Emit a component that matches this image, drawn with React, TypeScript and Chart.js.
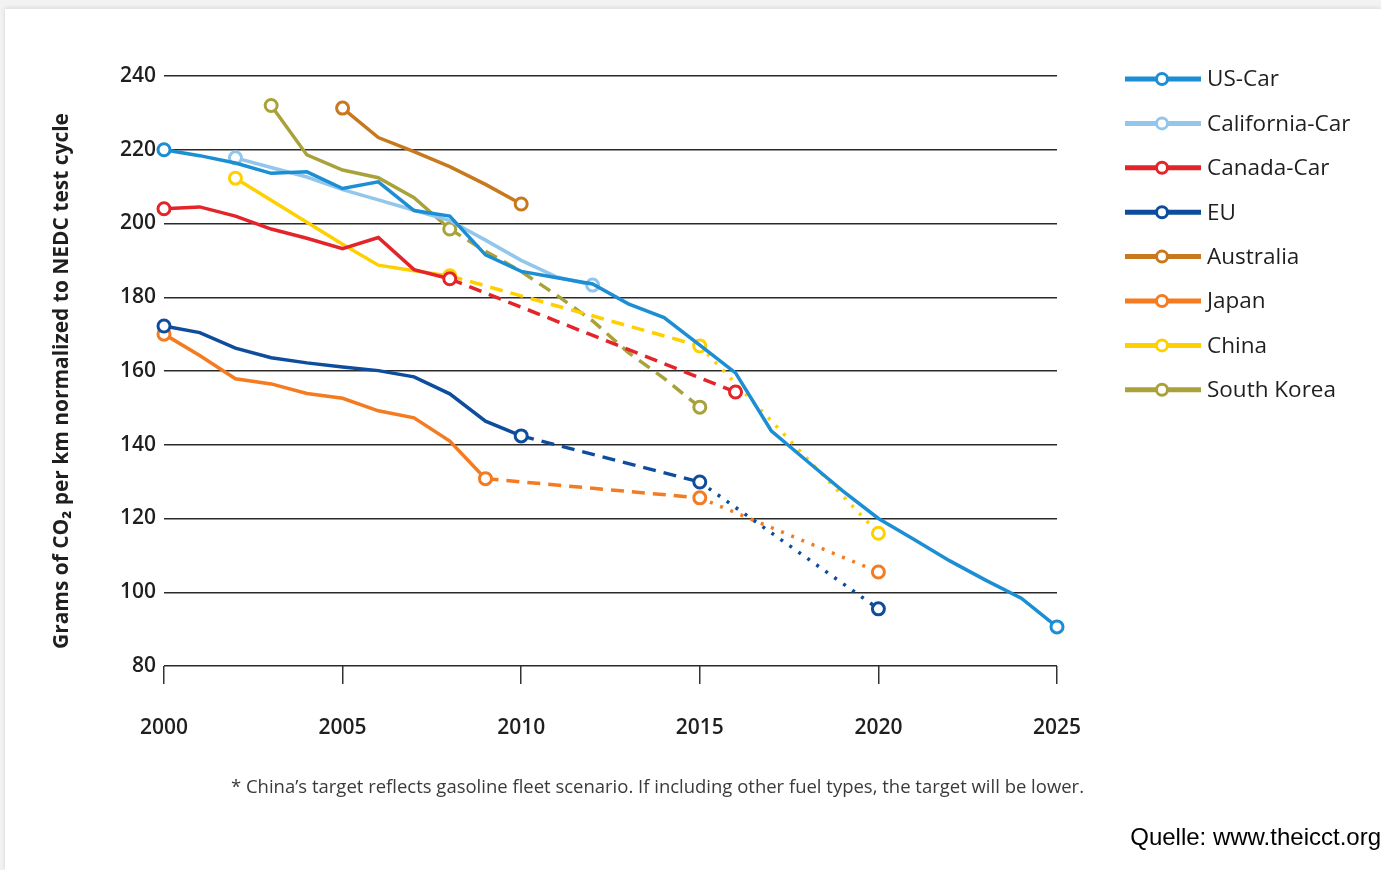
import React, { useEffect, useRef } from "react";
import { Chart, registerables } from "chart.js";

Chart.register(...registerables);

const xTicks = [2000, 2005, 2010, 2015, 2020, 2025];
const yTicks = [80, 100, 120, 140, 160, 180, 200, 220, 240];

const usYears = [2000, 2001, 2002, 2003, 2004, 2005, 2006, 2007, 2008, 2009, 2010, 2011, 2012, 2013, 2014, 2015, 2016, 2017, 2018, 2019, 2020, 2021, 2022, 2023, 2024, 2025];
const usValues = [220, 218.4, 216.4, 213.6, 214, 209.5, 211.3, 203.5, 202, 191.5, 187, 185.3, 183.6, 178.2, 174.5, 167, 159.5, 143.8, 135.6, 127.5, 120, 114.3, 108.5, 103.3, 98.4, 90.6];

const calYears = [2002, 2003, 2004, 2005, 2006, 2007, 2008, 2009, 2010, 2011, 2012];
const calValues = [217.8, 215.2, 212.6, 209.2, 206.4, 203.6, 200.8, 195.5, 190, 185.5, 183.3];

const canYears = [2000, 2001, 2002, 2003, 2004, 2005, 2006, 2007, 2008, 2016];
const canValues = [204, 204.5, 202, 198.5, 196, 193.2, 196.2, 187.5, 185, 154.3];

const euYears = [2000, 2001, 2002, 2003, 2004, 2005, 2006, 2007, 2008, 2009, 2010, 2015, 2020];
const euValues = [172.2, 170.4, 166.2, 163.6, 162.2, 161.1, 160.1, 158.4, 153.8, 146.4, 142.4, 129.9, 95.5];

const ausYears = [2005, 2006, 2007, 2008, 2009, 2010];
const ausValues = [231.3, 223.3, 219.5, 215.4, 210.6, 205.3];

const jpYears = [2000, 2001, 2002, 2003, 2004, 2005, 2006, 2007, 2008, 2009, 2015, 2020];
const jpValues = [170, 164.2, 157.9, 156.5, 153.9, 152.6, 149.2, 147.3, 141, 130.8, 125.6, 105.5];

const cnYears = [2002, 2005, 2006, 2007, 2008, 2015, 2020];
const cnValues = [212.3, 194.4, 188.7, 187.2, 185.8, 166.8, 116];

const krYears = [2003, 2004, 2005, 2006, 2007, 2008, 2009, 2010, 2011, 2012, 2013, 2014, 2015];
const krValues = [232, 218.6, 214.5, 212.4, 207, 198.5, 192.5, 187, 180.5, 173.6, 165, 158, 150.2];

const seriesNames = ["US-Car", "California-Car", "Canada-Car", "EU", "Australia", "Japan", "China", "South Korea"];
const seriesColors = ["#1b8ed4", "#92c6ec", "#e3242b", "#0d4d9c", "#c8781d", "#f47b20", "#ffd000", "#a9a23b"];
const seriesYears = [usYears, calYears, canYears, euYears, ausYears, jpYears, cnYears, krYears];
const seriesValues = [usValues, calValues, canValues, euValues, ausValues, jpValues, cnValues, krValues];
// index of the point where dashed (target) and dotted (proposed) parts begin; -1 = none
const dashStarts = [-1, -1, 8, 10, -1, 9, 4, 5];
const dotStarts = [-1, -1, -1, 11, -1, 10, 5, -1];

const footnote = "* China\u2019s target reflects gasoline fleet scenario. If including other fuel types, the target will be lower.";
const sourceText = "Quelle: www.theicct.org";
const yTitle = "Grams of CO\u2082 per km normalized to NEDC test cycle";

const overlayPlugin = {
  id: "overlay",
  afterDraw(chart: any) {
    const ctx = chart.ctx;
    ctx.save();
    // y-axis title
    ctx.save();
    ctx.translate(62, 381);
    ctx.rotate(-Math.PI / 2);
    ctx.fillStyle = "#1f1f1f";
    ctx.font = 'bold 21px "Open Sans"';
    ctx.textAlign = "center";
    ctx.textBaseline = "middle";
    ctx.fillText(yTitle, 0, 0, 536);
    ctx.restore();
    // legend
    const legendX = 1125;
    const legendY0 = 79;
    const legendStep = 44.4;
    seriesNames.forEach((name, i) => {
      const y = legendY0 + i * legendStep;
      const c = seriesColors[i];
      ctx.strokeStyle = c;
      ctx.lineWidth = 5;
      ctx.lineCap = "butt";
      ctx.setLineDash([]);
      ctx.beginPath();
      ctx.moveTo(legendX, y);
      ctx.lineTo(legendX + 76, y);
      ctx.stroke();
      ctx.beginPath();
      ctx.arc(legendX + 37, y, 5.5, 0, Math.PI * 2);
      ctx.fillStyle = "#ffffff";
      ctx.fill();
      ctx.lineWidth = 3;
      ctx.stroke();
      ctx.fillStyle = "#1f1f1f";
      ctx.font = '500 22.5px "Open Sans"';
      ctx.textAlign = "left";
      ctx.textBaseline = "middle";
      ctx.fillText(name, legendX + 82, y + 1);
    });
    // footnote
    ctx.fillStyle = "#3a3a3a";
    ctx.font = '18.5px "Open Sans"';
    ctx.textAlign = "left";
    ctx.textBaseline = "middle";
    ctx.fillText(footnote, 231, 788, 853);
    // source
    ctx.fillStyle = "#000000";
    ctx.font = '24px "Liberation Sans"';
    ctx.textAlign = "right";
    ctx.fillText(sourceText, 1381, 838);
    ctx.restore();
  },
};

export default function App() {
  const canvasRef = useRef<HTMLCanvasElement | null>(null);

  useEffect(() => {
    if (!canvasRef.current) return;
    const datasets = seriesNames.map((name, i) => {
      const yrs = seriesYears[i];
      const vals = seriesValues[i];
      const ds = dashStarts[i];
      const dt = dotStarts[i];
      const markers = [0, yrs.length - 1];
      if (ds >= 0) markers.push(ds);
      if (dt >= 0) markers.push(dt);
      return {
        label: name,
        data: yrs.map((x, k) => ({ x, y: vals[k] })),
        borderColor: seriesColors[i],
        backgroundColor: seriesColors[i],
        borderWidth: 3.5,
        tension: 0,
        fill: false,
        clip: false,
        pointRadius: (c: any) => (markers.includes(c.dataIndex) ? 6 : 0),
        pointHoverRadius: 6,
        pointBackgroundColor: "#ffffff",
        pointBorderColor: seriesColors[i],
        pointBorderWidth: 3,
        segment: {
          borderDash: (c: any) => {
            if (dt >= 0 && c.p0DataIndex >= dt) return [3, 8];
            if (ds >= 0 && c.p0DataIndex >= ds) return [13, 8];
            return [];
          },
        },
      };
    });

    const chart = new Chart(canvasRef.current, {
      type: "line",
      data: { datasets },
      plugins: [overlayPlugin],
      options: {
        animation: false,
        responsive: false,
        maintainAspectRatio: false,
        layout: { padding: { left: 50, top: 76, right: 324, bottom: 124 } },
        plugins: {
          legend: { display: false },
          tooltip: { enabled: false },
        },
        scales: {
          x: {
            type: "linear",
            min: 2000,
            max: 2025,
            afterBuildTicks: (s: any) => {
              s.ticks = xTicks.map((v) => ({ value: v }));
            },
            afterFit: (s: any) => {
              s.height = 80;
            },
            ticks: {
              padding: 31,
              color: "#1f1f1f",
              font: { family: "Open Sans", size: 21, weight: "600" },
              callback: (v: any) => String(v),
            },
            grid: {
              display: true,
              drawOnChartArea: false,
              drawTicks: true,
              tickLength: 18,
              color: "#333333",
              lineWidth: 1.5,
            },
            border: { display: false },
          },
          y: {
            type: "linear",
            min: 80,
            max: 240,
            afterBuildTicks: (s: any) => {
              s.ticks = yTicks.map((v) => ({ value: v }));
            },
            afterFit: (s: any) => {
              s.width = 114;
            },
            ticks: {
              padding: 8,
              color: "#1f1f1f",
              font: { family: "Open Sans", size: 21, weight: "600" },
            },
            grid: {
              color: "#2a2a2a",
              lineWidth: 1.5,
              drawTicks: false,
            },
            border: { display: false },
            title: { display: false },
          },
        },
      },
    } as any);
    return () => chart.destroy();
  }, []);

  return (
    <div style={{ position: "fixed", left: 0, top: 0, width: 1381, height: 870, background: "#f2f2f2", overflow: "hidden" }}>
      <div
        style={{
          position: "absolute",
          left: 5,
          top: 8,
          right: 0,
          bottom: 0,
          background: "#ffffff",
          boxShadow: "0 0 4px rgba(0,0,0,0.12)",
          borderTop: "1px solid #e4e4e4",
        }}
      />
      <canvas ref={canvasRef} width={1381} height={870} style={{ position: "absolute", left: 0, top: 0, width: 1381, height: 870 }} />
    </div>
  );
}
